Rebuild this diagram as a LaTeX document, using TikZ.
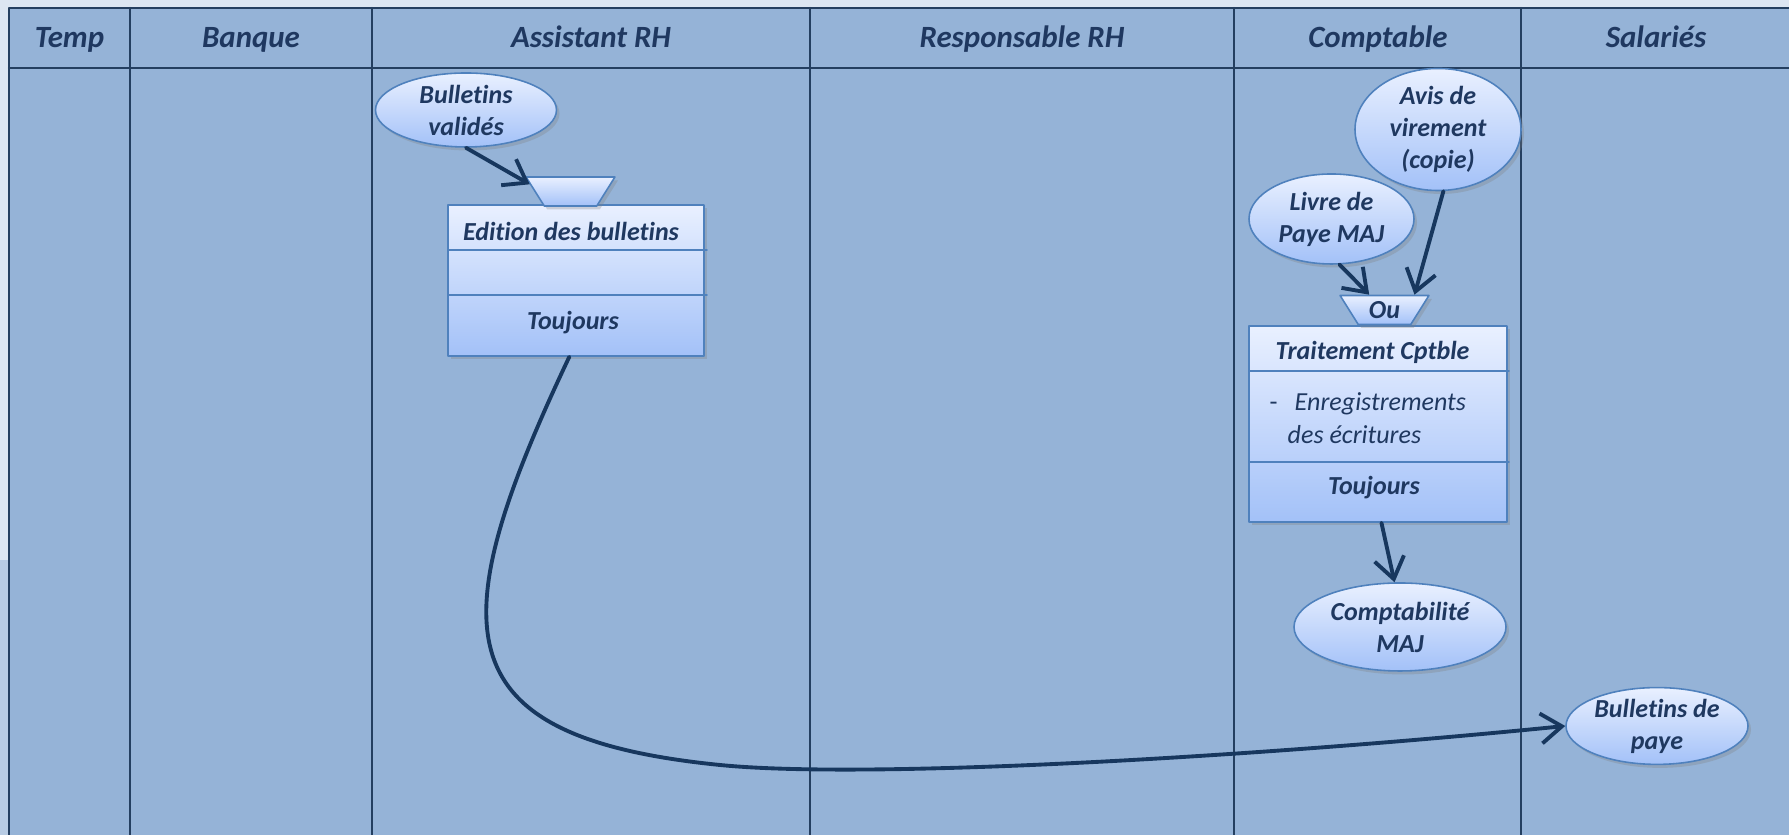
\documentclass[tikz,border=0pt]{standalone}
\usepackage{fontspec}
\setmainfont{Carlito}[Ligatures=NoCommon]
\usetikzlibrary{arrows.meta,shapes.geometric,shadows}
\definecolor{fond}{RGB}{220,230,242}
\definecolor{bande}{RGB}{184,204,228}
\definecolor{cadre}{RGB}{149,179,215}
\definecolor{trait}{RGB}{36,63,96}
\definecolor{fleche}{RGB}{23,55,94}
\definecolor{texte}{RGB}{31,56,96}
\definecolor{bord}{RGB}{79,129,189}
\definecolor{haut}{RGB}{233,240,255}
\definecolor{bas}{RGB}{163,193,248}
\begin{document}
\begin{tikzpicture}[line cap=round,line join=round,>={Straight Barb[length=2.1mm,width=3mm]},x=1.0cm,y=1.0cm,
	ent/.style={anchor=base,inner sep=0pt,text=texte,font=\fontsize{8.8}{10}\selectfont\bfseries\itshape},
	lib/.style={inner sep=0pt,text=texte,font=\fontsize{7.4}{9}\selectfont\bfseries\itshape},
	corps/.style={anchor=base west,inner sep=0pt,text=texte,font=\fontsize{7.4}{9}\selectfont\itshape},
	ombre/.style={drop shadow={opacity=0.3,shadow xshift=0.03,shadow yshift=-0.035}},
	doc/.style={ellipse,draw=bord,line width=0.45pt,top color=haut,bottom color=bas,inner sep=0pt,align=center,ombre,
		text=texte,font=\fontsize{7.4}{9.1}\selectfont\bfseries\itshape},
	boite/.style={rectangle,draw=bord,line width=0.45pt,top color=haut,bottom color=bas,inner sep=0pt,ombre},
	porte/.style={trapezium,shape border rotate=180,trapezium angle=60,trapezium stretches=true,
		minimum width=0.89cm,minimum height=0.29cm,draw=bord,line width=0.45pt,top color=haut,bottom color=bas,inner sep=0.5pt,ombre,
		text=texte,font=\fontsize{7.4}{9}\selectfont\bfseries\itshape},
	cloison/.style={draw=bord,line width=0.45pt},
	grille/.style={draw=trait,line width=0.6pt},
	flux/.style={->,draw=fleche,line width=1.1pt}]
	\useasboundingbox (0.,0.) rectangle (17.89,8.35);
	\clip(0.,0.) rectangle (17.89,8.35);
	\fill[fond] (0.,0.) rectangle (17.89,8.35);
	\fill[bande] (0.,0.) rectangle (0.09,2.75);
	\fill[cadre] (0.09,0.) rectangle (17.95,8.27);
	\draw[grille] (0.09,0.) -- (0.09,8.27) -- (17.95,8.27);
	\draw[grille] (0.09,7.67) -- (17.95,7.67);
	\foreach \x in {1.30,3.72,8.10,12.34,15.21}
		\draw[grille] (\x,0.) -- (\x,8.27);
	\node[ent] (temp) at (0.695,7.87) {Temp};
	\node[ent] (banque) at (2.51,7.87) {Banque};
	\node[ent] (arh) at (5.91,7.87) {Assistant RH};
	\node[ent] (rrh) at (10.22,7.87) {Responsable RH};
	\node[ent] (compt) at (13.78,7.87) {Comptable};
	\node[ent] (sal) at (16.56,7.87) {Salariés};
	\node[boite,minimum width=2.56cm,minimum height=1.51cm] (ed) at (5.76,5.545) {};
	\draw[cloison] (4.48,5.85) -- (7.07,5.85);
	\draw[cloison] (4.48,5.40) -- (7.07,5.40);
	\node[lib] (ed1) at (5.71,6.04) {Edition des bulletins};
	\node[lib] (ed2) at (5.73,5.12) {Toujours};
	\node[porte] (p1) at (5.705,6.435) {\phantom{Ou}};
	\node[doc,minimum width=1.81cm,minimum height=0.74cm] (bv) at (4.66,7.25) {Bulletins\\validés};
	\node[boite,minimum width=2.58cm,minimum height=1.96cm] (tc) at (13.78,4.11) {};
	\draw[cloison] (12.49,4.64) -- (15.09,4.64);
	\draw[cloison] (12.49,3.73) -- (15.09,3.73);
	\node[lib] (tc1) at (13.725,4.83) {Traitement Cptble};
	\node[corps,font=\fontsize{7.4}{9}\selectfont] (tc2) at (12.69,4.24) {-};
	\node[corps] (tc3) at (12.94,4.24) {Enregistrements};
	\node[corps] (tc4) at (12.87,3.91) {des écritures};
	\node[lib] (tc5) at (13.74,3.47) {Toujours};
	\node[porte] (p2) at (13.845,5.25) {Ou};
	\node[doc,minimum width=1.65cm,minimum height=0.90cm] (lp) at (13.315,6.16) {Livre de\\Paye MAJ};
	\node[doc,minimum width=1.66cm,minimum height=1.17cm] (av) at (14.38,7.055) {Avis de\\virement\\(copie)};
	\node[doc,minimum width=2.12cm,minimum height=0.88cm] (cm) at (14.00,2.08) {Comptabilité\\MAJ};
	\node[doc,minimum width=1.82cm,minimum height=0.74cm] (bp) at (16.57,1.09) {Bulletins de\\paye};
	\draw[flux] (bv.south) -- (p1.170);
	\draw[flux] (lp.-80) -- (p2.135);
	\draw[flux] (av.-85) -- (p2.27);
	\draw[flux] (tc.-88) -- (cm.97);
	\draw[flux] (ed.-95) .. controls (4.41,2.07) and (4.40,0.98) .. (7.20,0.70) .. controls (8.70,0.55) and (12.67,0.79) .. (bp.west);
\end{tikzpicture}
\end{document}
